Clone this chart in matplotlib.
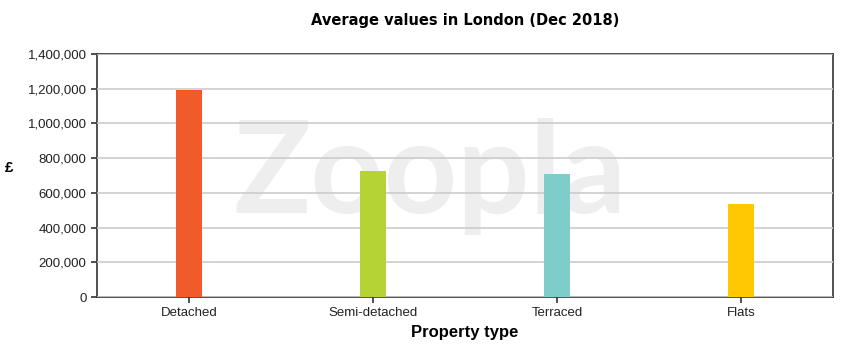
import matplotlib
matplotlib.use("Agg")
import matplotlib.pyplot as plt
from matplotlib.ticker import FuncFormatter

categories = ["Detached", "Semi-detached", "Terraced", "Flats"]
values = [1195000, 728000, 710000, 534000]
colors = ["#f15a29", "#b5d334", "#7ecdcb", "#ffc800"]
yticks = [0, 200000, 400000, 600000, 800000, 1000000, 1200000, 1400000]

plt.rcParams['font.family'] = ['Liberation Sans', 'DejaVu Sans']

fig = plt.figure(figsize=(8.5, 3.58), dpi=100)
ax = fig.add_axes([97/850, 1 - 297/358, 736/850, 243/358])

x = list(range(len(categories)))
ax.bar(x, values, width=0.14, color=colors, zorder=3)

ax.text(0.452, 0.346, "Zoopla", transform=ax.transAxes, ha="center", va="baseline",
        fontsize=92, color="#eeeeee", fontweight="bold", family="Lato", zorder=1)

ax.set_xlim(-0.5, 3.5)
ax.set_ylim(0, 1400000)
ax.set_yticks(yticks)
ax.yaxis.set_major_formatter(FuncFormatter(lambda v, p: f"{int(v):,}"))
ax.set_xticks(x)
ax.set_xticklabels(categories)
ax.grid(axis="y", color="#cccccc", linewidth=1.2, zorder=2)
ax.set_axisbelow(False)
for s in ax.spines.values():
    s.set_color("#333333")
    s.set_linewidth(1.2)
ax.tick_params(axis="both", colors="#333333", labelsize=9.5, length=4, width=1.2, labelcolor="#222222")

ax.set_title("Average values in London (Dec 2018)", fontsize=10.5, fontweight="bold",
             pad=21, family="DejaVu Sans")
ax.set_xlabel("Property type", fontsize=12, fontweight="bold", labelpad=4)
ax.set_ylabel("£", fontsize=11, fontweight="bold", rotation=0, labelpad=0)
ax.yaxis.set_label_coords(-0.12, 0.5)

fig.savefig("out.png", dpi=100)
